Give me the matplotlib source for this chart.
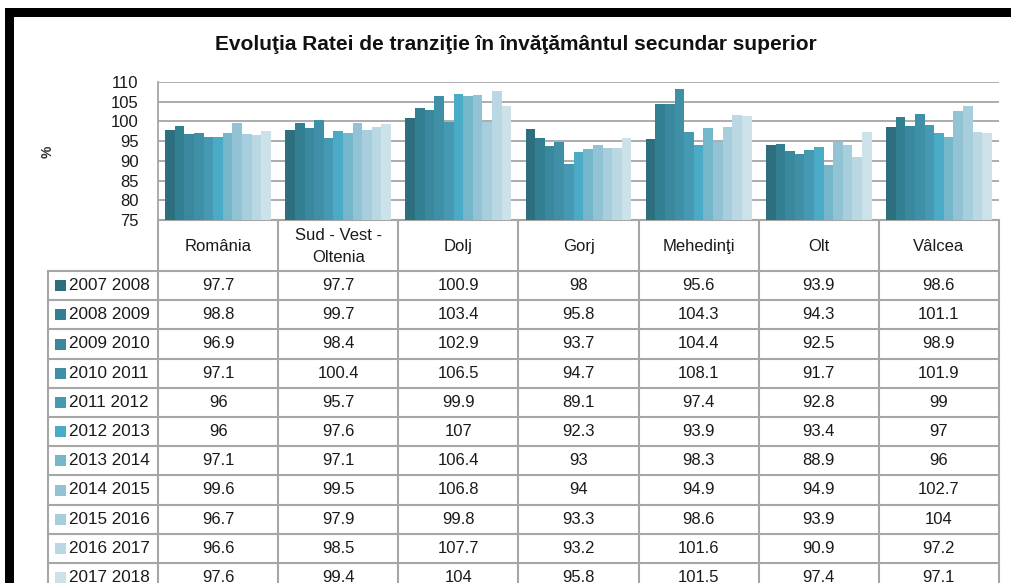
import matplotlib
matplotlib.use("Agg")
import matplotlib.pyplot as plt
import numpy as np

plt.rcParams['font.family'] = ['Liberation Sans', 'DejaVu Sans']

# Data: transition rate (%) per region and school year
regions = ["România", "Sud - Vest -\nOltenia", "Dolj", "Gorj", "Mehedinţi", "Olt", "Vâlcea"]
years = ["2007 2008", "2008 2009", "2009 2010", "2010 2011", "2011 2012", "2012 2013",
         "2013 2014", "2014 2015", "2015 2016", "2016 2017", "2017 2018"]

romania = [97.7, 98.8, 96.9, 97.1, 96, 96, 97.1, 99.6, 96.7, 96.6, 97.6]
sud_vest_oltenia = [97.7, 99.7, 98.4, 100.4, 95.7, 97.6, 97.1, 99.5, 97.9, 98.5, 99.4]
dolj = [100.9, 103.4, 102.9, 106.5, 99.9, 107, 106.4, 106.8, 99.8, 107.7, 104]
gorj = [98, 95.8, 93.7, 94.7, 89.1, 92.3, 93, 94, 93.3, 93.2, 95.8]
mehedinti = [95.6, 104.3, 104.4, 108.1, 97.4, 93.9, 98.3, 94.9, 98.6, 101.6, 101.5]
olt = [93.9, 94.3, 92.5, 91.7, 92.8, 93.4, 88.9, 94.9, 93.9, 90.9, 97.4]
valcea = [98.6, 101.1, 98.9, 101.9, 99, 97, 96, 102.7, 104, 97.2, 97.1]

values = np.array([romania, sud_vest_oltenia, dolj, gorj, mehedinti, olt, valcea])  # region x year

colors = ["#2E6F7F", "#337F92", "#3A889D", "#3F8FA6", "#4599B2", "#4AABC6",
          "#74B6CA", "#92C3D4", "#A6CEDC", "#BAD8E3", "#CCE1E8"]

W, H = 1011, 583
fig = plt.figure(figsize=(W / 100, H / 100), dpi=100)

# Background layer in pixel coordinates for frame, title and table
bg = fig.add_axes([0, 0, 1, 1])
bg.set_xlim(0, W)
bg.set_ylim(H, 0)
bg.axis("off")

# Black frame (top and left)
bg.fill_between([5, W], 8, 16.5, color="black", lw=0)
bg.fill_between([5, 13.5], 8, H, color="black", lw=0)

bg.text(516, 45, "Evoluţia Ratei de tranziţie în învăţământul secundar superior",
        ha="center", va="center", fontsize=15, fontweight="bold", color="#111111")

# Plot area geometry (pixels)
px_l, px_r, px_t, px_b = 158, 999, 82, 220
ax = fig.add_axes([px_l / W, 1 - px_b / H, (px_r - px_l) / W, (px_b - px_t) / H])
ncat, nser = values.shape
group = 0.88
bw = group / nser
x0 = np.arange(ncat) + 0.5 - group / 2
for j in range(nser):
    ax.bar(x0 + (j + 0.5) * bw, values[:, j] - 75, bottom=75, width=bw,
           color=colors[j], lw=0, zorder=3)
ax.set_xlim(0, ncat)
ax.set_ylim(75, 110)
ax.set_yticks(np.arange(75, 111, 5))
ax.yaxis.grid(True, color="#A6A6A6", lw=1.3, zorder=0)
ax.set_xticks([])
for s in ["top", "right", "bottom"]:
    ax.spines[s].set_visible(False)
ax.spines["left"].set_color("#A6A6A6")
ax.spines["left"].set_linewidth(1.3)
ax.tick_params(axis="y", length=0, pad=14, labelsize=12, labelcolor="#1a1a1a")
ax.patch.set_alpha(0)
bg.text(48, 152, "%", rotation=90, ha="center", va="center", fontsize=10,
        fontweight="bold", color="#333333")

# Data table under the chart
grid_c = "#A6A6A6"
col_w = (px_r - px_l) / ncat
hdr_b = 271
row_h = 29.2
leg_l = 48
n_rows = len(years)

# horizontal lines
bg.plot([px_l, px_r], [px_b, px_b], color=grid_c, lw=1.5)
for k in range(n_rows + 1):
    y = hdr_b + k * row_h
    if y < H:
        bg.plot([leg_l, px_r], [y, y], color=grid_c, lw=1.5)
# vertical lines
bg.plot([leg_l, leg_l], [hdr_b, H], color=grid_c, lw=1.5)
for i in range(ncat + 1):
    x = px_l + i * col_w
    bg.plot([x, x], [px_b, H], color=grid_c, lw=1.5)

for i, name in enumerate(regions):
    bg.text(px_l + (i + 0.5) * col_w, (px_b + hdr_b) / 2 + 1, name, ha="center",
            va="center", fontsize=12, color="#1a1a1a", linespacing=1.6)

for k, yr in enumerate(years):
    yc = hdr_b + (k + 0.5) * row_h
    bg.add_patch(plt.Rectangle((55, yc - 5.5), 11, 11, color=colors[k], lw=0))
    bg.text(69, yc, yr, ha="left", va="center", fontsize=12.3, color="#1a1a1a")
    for i in range(ncat):
        v = values[i, k]
        txt = f"{v:g}"
        bg.text(px_l + (i + 0.5) * col_w, yc, txt, ha="center", va="center",
                fontsize=12, color="#1a1a1a")

fig.savefig("out.png", dpi=100)
